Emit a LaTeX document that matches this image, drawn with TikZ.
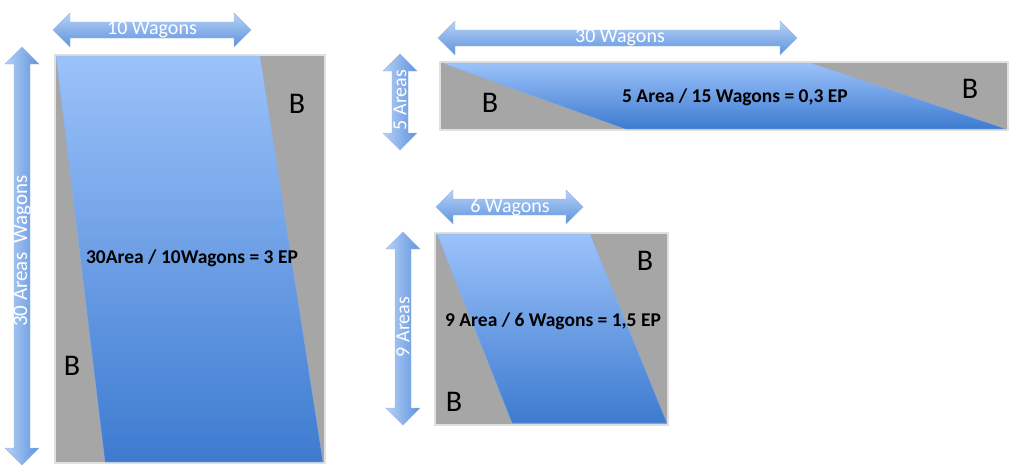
\documentclass[tikz,border=0pt]{standalone}
\usepackage{fontspec}
\setmainfont{Carlito}
\definecolor{bgray}{HTML}{A6A6A6}
\definecolor{btop}{HTML}{9CC2FA}
\definecolor{bbot}{HTML}{3D7BD0}
\definecolor{atop}{HTML}{B7D1F6}
\definecolor{abot}{HTML}{5E93DE}
\definecolor{edge}{HTML}{5A8BD6}
\newcommand\harr[3]{% x1 x2 yc
  \shade[top color=atop,bottom color=abot,draw=edge!60,line width=0.4pt]
  (#1,#3) -- ++(17,-17) -- ++(0,9) -- (#2-17,#3-8) -- ++(0,-9) -- (#2,#3)
  -- ++(-17,17) -- ++(0,-9) -- (#1+17,#3+8) -- ++(0,9) -- cycle;}
\newcommand\varr[3]{% y1 y2 xc
  \shade[left color=atop,right color=abot,draw=edge!60,line width=0.4pt]
  (#3,#1) -- ++(17,17) -- ++(-9,0) -- (#3+8,#2-17) -- ++(9,0) -- (#3,#2)
  -- ++(-17,-17) -- ++(9,0) -- (#3-8,#1+17) -- ++(-9,0) -- cycle;}
\tikzset{
  box/.style={fill=bgray,draw=black!12,line width=1.6pt},
  blue/.style={top color=btop,bottom color=bbot,draw=edge!70,line width=0.3pt},
  blab/.style={font=\fontsize{30}{30}\selectfont,text=black,inner sep=0pt},
  eq/.style={font=\bfseries\fontsize{19.5}{19.5}\selectfont,text=black,inner sep=0pt},
  alab/.style={font=\fontsize{20}{20}\selectfont,text=white,inner sep=0pt},
}
\begin{document}
\begin{tikzpicture}[x=1pt,y=-1pt]
\useasboundingbox (0,0) rectangle (1024,471);
% ---- big box
\draw[box] (55,55) rectangle (325,463);
\shade[blue] (56,56) -- (260,56) -- (323,462) -- (105,462) -- cycle;
\node[blab] (b1) at (297,104) {B};
\node[blab] (b2) at (72,366) {B};
\node[eq] (e1) at (192,258) {30Area / 10Wagons = 3 EP};
\harr{53}{251}{30}
\node[alab] (a1) at (152,30) {10 Wagons};
\varr{47}{465}{22}
\node[alab,rotate=90,font=\fontsize{21}{21}\selectfont] (a2) at (22,251) {30 Areas\ \ Wagons};
% ---- wide box
\draw[box] (440,62) rectangle (1008,130);
\shade[blue] (442,63) -- (811,63) -- (1006,129) -- (625,129) -- cycle;
\node[blab] (b3) at (490,103) {B};
\node[blab] (b4) at (970,89) {B};
\node[eq] (e2) at (735,97) {5 Area / 15 Wagons = 0,3 EP};
\harr{438}{797}{38}
\node[alab] (a3) at (620,38) {30 Wagons};
\varr{54}{150}{400}
\node[alab,rotate=90] (a4) at (400,100) {5 Areas};
% ---- square box
\draw[box] (435,233) rectangle (668,425);
\shade[blue] (437,234) -- (590,234) -- (667,423) -- (512,423) -- cycle;
\node[blab] (b5) at (645,261) {B};
\node[blab] (b6) at (454,402) {B};
\node[eq] (e3) at (553,321) {9 Area / 6 Wagons = 1,5 EP};
\harr{436}{583}{207}
\node[alab] (a5) at (510,207) {6 Wagons};
\varr{232}{425}{403}
\node[alab,rotate=90] (a6) at (403,327) {9 Areas};
\end{tikzpicture}
\end{document}
